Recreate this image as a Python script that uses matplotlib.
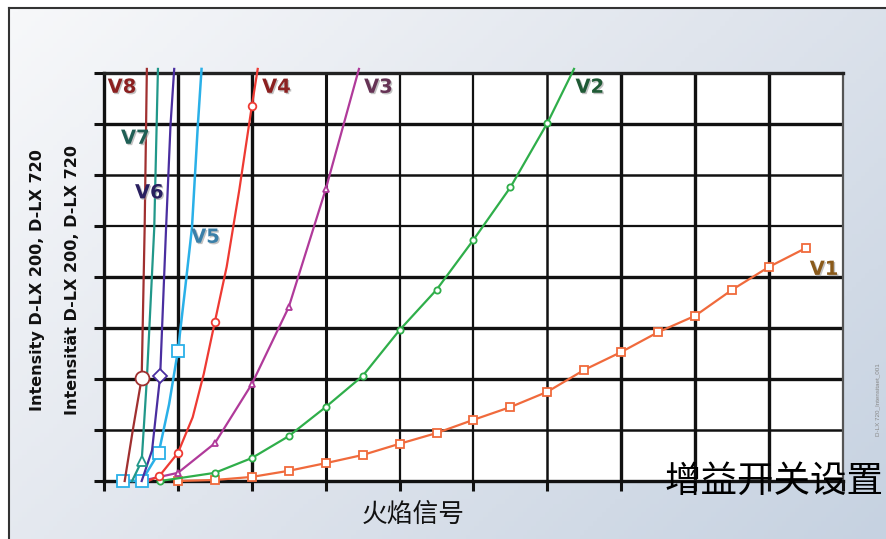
import numpy as np
import matplotlib
matplotlib.use('Agg')
import matplotlib.pyplot as plt
import matplotlib.patheffects as pe
from matplotlib.colors import LinearSegmentedColormap

plt.rcParams['font.family'] = ['Liberation Sans', 'Noto Sans CJK SC', 'DejaVu Sans']

# Kurven (x in Gitterfeldern, y in Gitterfeldern)
v1_x = [1.0, 1.5, 2.0, 2.5, 3.0, 3.5, 4.0, 4.5, 5.0, 5.5, 6.0, 6.5, 7.0, 7.5, 8.0, 8.5, 9.0, 9.5]
v1_y = [0.0, 0.02, 0.08, 0.20, 0.35, 0.51, 0.73, 0.94, 1.20, 1.45, 1.75, 2.18, 2.53, 2.92, 3.24, 3.75, 4.20, 4.57]
v2_x = [0.76, 1.5, 2.0, 2.5, 3.0, 3.5, 4.0, 4.5, 5.0, 5.5, 6.0, 6.36]
v2_y = [0.0, 0.16, 0.45, 0.88, 1.45, 2.06, 2.96, 3.75, 4.73, 5.76, 7.02, 8.08]
v3_x = [0.5, 1.0, 1.5, 2.0, 2.5, 3.0, 3.45]
v3_y = [0.0, 0.16, 0.74, 1.90, 3.41, 5.72, 8.08]
v4_x = [0.6, 0.75, 1.0, 1.2, 1.35, 1.5, 1.66, 1.83, 2.0, 2.08]
v4_y = [0.0, 0.10, 0.55, 1.25, 2.1, 3.12, 4.2, 5.7, 7.35, 8.08]
v5_x = [0.26, 0.51, 0.74, 0.88, 1.0, 1.1, 1.19, 1.27, 1.32]
v5_y = [0.0, 0.0, 0.55, 1.5, 2.55, 3.8, 4.96, 6.98, 8.08]
v6_x = [0.51, 0.65, 0.76, 0.84, 0.90, 0.95]
v6_y = [0.0, 0.6, 2.06, 4.96, 6.98, 8.08]
v7_x = [0.38, 0.51, 0.58, 0.68, 0.73]
v7_y = [0.0, 0.39, 2.0, 4.96, 8.08]
v8_x = [0.28, 0.39, 0.51, 0.55, 0.58]
v8_y = [0.0, 1.0, 2.02, 4.96, 8.08]

W, H = 887, 539
fig = plt.figure(figsize=(W / 100, H / 100), dpi=100)
fig.patch.set_facecolor('white')

# Hintergrund mit Verlauf
bg = fig.add_axes([9 / W, 0, (W - 9) / W, (H - 8) / H])
u = np.linspace(0, 1, 200)
v = np.linspace(0, 1, 120)
U, V = np.meshgrid(u, v)
cmap = LinearSegmentedColormap.from_list('bg', ['#f7f8fa', '#e0e5ed', '#c6d2e1'])
bg.imshow(0.6 * U + 0.4 * V, cmap=cmap, aspect='auto', origin='upper', extent=[0, 1, 0, 1])
bg.set_xticks([])
bg.set_yticks([])
for s in ['right', 'bottom']:
    bg.spines[s].set_visible(False)
for s in ['top', 'left']:
    bg.spines[s].set_color('#333333')
    bg.spines[s].set_linewidth(1.5)

ax = fig.add_axes([104 / W, (H - 481) / H, (843 - 104) / W, (481 - 73) / H])
ax.set_facecolor('white')
ax.set_xlim(0, 10)
ax.set_ylim(0, 8)

# Gitter
vw = [0, 2.4, 2.4, 2.2, 1.6, 1.6, 1.8, 2.4, 2.4, 2.4]
hw = [0, 1.8, 2.4, 2.4, 2.4, 1.6, 1.8, 2.4]
for i in range(1, 10):
    ax.axvline(i, color='#111111', lw=vw[i], zorder=1)
for j in range(1, 8):
    ax.axhline(j, color='#111111', lw=hw[j], zorder=1)
for s in ax.spines.values():
    s.set_linewidth(2.4)
    s.set_color('#111111')
ax.spines['right'].set_linewidth(1.6)
ax.spines['right'].set_color('#555555')
ax.spines['top'].set_color('#222222')
ax.set_xticks(range(0, 11))
ax.set_yticks(range(0, 9))
ax.set_xticklabels([])
ax.set_yticklabels([])
ax.tick_params(direction='out', length=7, width=2.2, color='#111111')
ax.tick_params(axis='x', top=False)

def kurve(x, y, color, marker, ms, every, lw=1.6):
    ax.plot(x, y, color=color, lw=lw, marker=marker, ms=ms, mfc='white',
            mec=color, mew=1.3, markevery=every, clip_on=False, zorder=3)

kurve(v1_x, v1_y, '#f06a3c', 's', 5.5, None)
kurve(v2_x, v2_y, '#2fae4a', 'o', 4.5, list(range(len(v2_x) - 1)))
kurve(v3_x, v3_y, '#b03a9a', '^', 4.5, list(range(len(v3_x) - 1)))
kurve(v4_x, v4_y, '#ee3a33', 'o', 5.5, [1, 2, 5, 8])
kurve(v5_x, v5_y, '#2ab0e8', 's', 9, [0, 1, 2, 4], lw=1.8)
kurve(v6_x, v6_y, '#4a2ea0', 'D', 7, [2])
kurve(v7_x, v7_y, '#21988a', '^', 7, [1])
kurve(v8_x, v8_y, '#a03030', 'o', 10, [2])

labels = [('V8', 0.05, 7.72, '#8b2020'), ('V7', 0.23, 6.72, '#1f5f55'),
          ('V6', 0.42, 5.65, '#2a2060'), ('V5', 1.18, 4.78, '#3a7fa8'),
          ('V4', 2.14, 7.72, '#8b2020'), ('V3', 3.52, 7.72, '#663355'),
          ('V2', 6.38, 7.72, '#1f5a35'), ('V1', 9.55, 4.15, '#8a5a1a')]
for t, x, y, c in labels:
    ax.text(x, y, t, color=c, fontsize=14, fontweight='heavy', va='center', ha='left', zorder=5,
            family=['DejaVu Sans'],
            path_effects=[pe.withSimplePatchShadow(offset=(1, -1), shadow_rgbFace='#999999', alpha=0.6)])

fig.text(38 / W, 1 - 280 / H, 'Intensity D-LX 200, D-LX 720', rotation=90, ha='center', va='center',
         fontsize=11.5, fontweight='bold', color='#111111', family=['DejaVu Sans'])
fig.text(73 / W, 1 - 280 / H, 'Intensität D-LX 200, D-LX 720', rotation=90, ha='center', va='center',
         fontsize=11.5, fontweight='bold', color='#111111', family=['DejaVu Sans'])
fig.text(413 / W, 1 - 515 / H, '火焰信号', ha='center', va='center', fontsize=18.5,
         family=['Noto Sans CJK SC'], color='#111111')
fig.text(665 / W, 1 - 482 / H, '增益开关设置', ha='left', va='center', fontsize=26.3,
         family=['Noto Sans CJK SC'], color='#000000')
fig.text(878 / W, 1 - 400 / H, 'D-LX 720_Intensitaet_001', rotation=90, ha='center', va='center',
         fontsize=4.5, color='#888888')

fig.savefig('out.png', dpi=100)
